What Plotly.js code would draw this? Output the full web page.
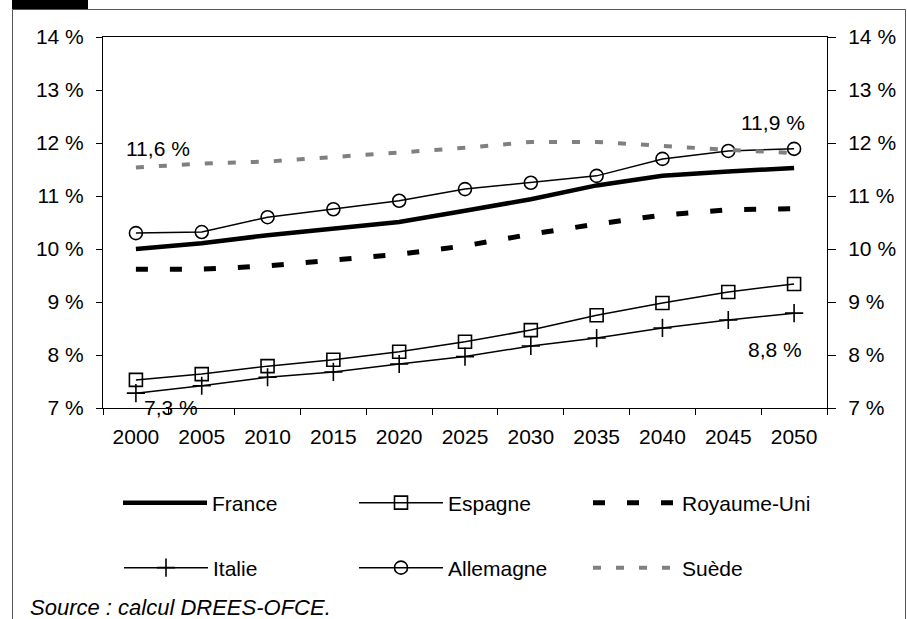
<!DOCTYPE html>
<html><head><meta charset="utf-8">
<script src="https://cdn.plot.ly/plotly-3.0.1.min.js"></script>
<style>html,body{margin:0;padding:0;background:#fff}#chart{width:907px;height:619px}</style>
</head><body><div id="chart"></div>
<script>
const years = ['2000','2005','2010','2015','2020','2025','2030','2035','2040','2045','2050'];
const france     = [10.00,10.11,10.26,10.38,10.51,10.72,10.94,11.20,11.38,11.46,11.53];
const espagne    = [7.53,7.64,7.79,7.91,8.06,8.25,8.47,8.75,8.98,9.19,9.34];
const royaumeUni = [9.62,9.62,9.68,9.78,9.90,10.06,10.28,10.47,10.64,10.74,10.76];
const italie     = [7.28,7.42,7.58,7.68,7.83,7.97,8.17,8.32,8.51,8.66,8.79];
const allemagne  = [10.30,10.32,10.60,10.75,10.91,11.13,11.25,11.38,11.70,11.85,11.89];
const suede      = [11.54,11.61,11.65,11.73,11.82,11.91,12.02,12.02,11.94,11.87,11.81];
const yTickVals  = [7,8,9,10,11,12,13,14];
const yTickText  = ['7 %','8 %','9 %','10 %','11 %','12 %','13 %','14 %'];
const labels = [
  {text:'11,6 %', year:'2000', value:11.6},
  {text:'11,9 %', year:'2050', value:11.9},
  {text:'7,3 %',  year:'2000', value:7.3},
  {text:'8,8 %',  year:'2050', value:8.8}
];

const FONT = 'Liberation Sans, Arial, sans-serif';
const FS = 21;

const traces = [
  {name:'France', x:years, y:france, yaxis:'y2', mode:'lines', line:{color:'#000', width:4.5}, legend:'legend'},
  {name:'Espagne', x:years, y:espagne, mode:'lines+markers', line:{color:'#000', width:1.5},
   marker:{symbol:'square-open', size:13, color:'#000', line:{width:1.6}}, legend:'legend2'},
  {name:'Royaume-Uni', x:years, y:royaumeUni, mode:'lines', line:{color:'#000', width:5, dash:'12px,22px'}, legend:'legend3'},
  {name:'Italie', x:years, y:italie, mode:'lines+markers', line:{color:'#000', width:1.5},
   marker:{symbol:'cross-thin-open', size:13, color:'#000', line:{width:1.6, color:'#000'}}, legend:'legend4'},
  {name:'Allemagne', x:years, y:allemagne, mode:'lines+markers', line:{color:'#000', width:1.5},
   marker:{symbol:'circle-open', size:13, color:'#000', line:{width:1.6}}, legend:'legend5'},
  {name:'Suède', x:years, y:suede, mode:'lines', line:{color:'#808080', width:4, dash:'8px,15px'}, legend:'legend6'}
];

const shifts = [[22,16],[-21,26],[35,-15],[-19,-37]];
const annotations = labels.map((l,i)=>({
  x:years.indexOf(l.year), y:l.value, xref:'x', yref:'y', text:l.text, showarrow:false,
  xshift:shifts[i][0], yshift:shifts[i][1], font:{family:FONT, size:FS, color:'#000'}
}));

// frame decorations (pixel -> paper)
const L=103, R=827, T=37, B=408, W=R-L, H=B-T;
const px = v => (v-L)/W, py = v => (B-v)/H;
annotations.push({xref:'paper', yref:'paper', x:px(28), y:py(607), xanchor:'left', yanchor:'middle',
  text:'<i>Source : calcul DREES-OFCE.</i>', showarrow:false, font:{family:FONT, size:22, color:'#000'}});
const shapes = [
  {type:'line', xref:'paper', yref:'paper', x0:px(12.5), x1:px(905.5), y0:py(9.5), y1:py(9.5), line:{color:'#555', width:1}},
  {type:'line', xref:'paper', yref:'paper', x0:px(12.5), x1:px(12.5), y0:py(9.5), y1:py(640), line:{color:'#555', width:1}},
  {type:'line', xref:'paper', yref:'paper', x0:px(905.5), x1:px(905.5), y0:py(9.5), y1:py(640), line:{color:'#555', width:1}},
  {type:'rect', xref:'paper', yref:'paper', x0:px(12), x1:px(88), y0:py(0), y1:py(9), fillcolor:'#000', line:{width:0}}
];

const legendCommon = {orientation:'h', xanchor:'left', yanchor:'middle', itemwidth:84,
  font:{family:FONT, size:FS, color:'#000'}, bgcolor:'rgba(0,0,0,0)', itemclick:false, itemdoubleclick:false};
const legPos = [[123,503],[359,503],[593,503],[124,568],[359,568],[593,568]];
const axisCommon = {ticks:'outside', tickcolor:'#000', showline:true, linecolor:'#000', linewidth:1,
  showgrid:false, zeroline:false, tickfont:{family:FONT, size:FS, color:'#000'}};

const layout = {
  width:907, height:619,
  margin:{l:L, r:907-R, t:T, b:619-B, pad:0},
  paper_bgcolor:'#fff', plot_bgcolor:'#fff',
  showlegend:true, hovermode:false,
  font:{family:FONT, size:FS, color:'#000'},
  xaxis:Object.assign({type:'category', range:[-0.5,10.5], tickson:'boundaries', ticklen:6, mirror:true,
    ticklabelstandoff:10}, axisCommon),
  yaxis:Object.assign({range:[7,14], autorange:false, tickvals:yTickVals, ticktext:yTickText, ticklen:6,
    ticklabelstandoff:8}, axisCommon),
  yaxis2:Object.assign({overlaying:'y', side:'right', range:[7,14], autorange:false, tickvals:yTickVals, ticktext:yTickText,
    ticklen:8, ticklabelstandoff:8}, axisCommon),
  annotations:annotations,
  shapes:shapes
};
legPos.forEach((p,i)=>{
  layout[i===0?'legend':'legend'+(i+1)] = Object.assign({x:px(p[0]-5), y:py(p[1])}, legendCommon);
});

Plotly.newPlot('chart', traces, layout, {staticPlot:true, displayModeBar:false});
</script></body></html>
